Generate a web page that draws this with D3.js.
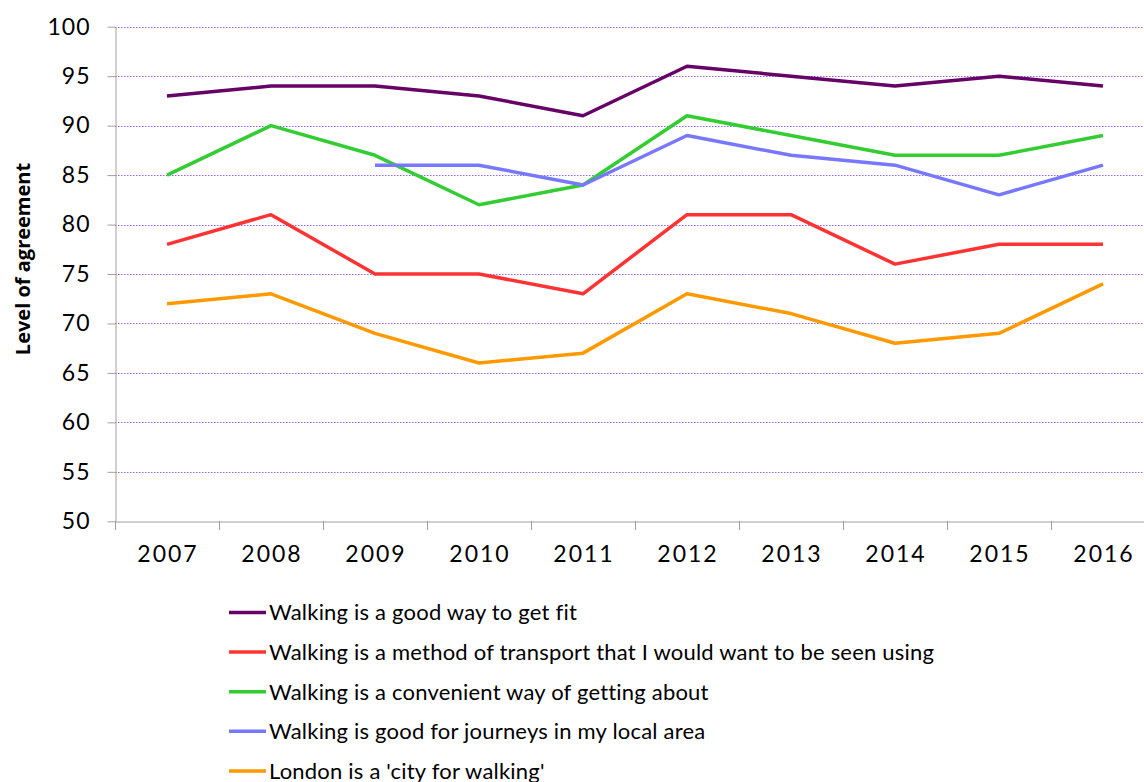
<!DOCTYPE html>
<html><head><meta charset="utf-8">
<script src="https://cdn.jsdelivr.net/npm/d3@7"></script>
<style>
body{margin:0;background:#fff;}
svg{display:block;}
text{font-variant-ligatures:none;}
</style></head>
<body><svg id="c" width="1144" height="782"></svg>
<script>
const years = ["2007","2008","2009","2010","2011","2012","2013","2014","2015","2016"];
const seriesNames = [
  "Walking is a good way to get fit",
  "Walking is a method of transport that I would want to be seen using",
  "Walking is a convenient way of getting about",
  "Walking is good for journeys in my local area",
  "London is a 'city for walking'"
];
const fitValues = [93,94,94,93,91,96,95,94,95,94];
const transportValues = [78,81,75,75,73,81,81,76,78,78];
const convenientValues = [85,90,87,82,84,91,89,87,87,89];
const localValues = [null,null,86,86,84,89,87,86,83,86];
const londonValues = [72,73,69,66,67,73,71,68,69,74];
const seriesColors = ["#660066","#ff3333","#33cc33","#7777ff","#ff9900"];
const yTicks = [50,55,60,65,70,75,80,85,90,95,100];
const yTitle = "Level of agreement";

(function(){
const allSeries = [fitValues, transportValues, convenientValues, localValues, londonValues];
const svg = d3.select("#c");
const pL = 115, pR = 1155, pT = 26.7, pB = 521.3;
const font = "Lato, 'Open Sans', sans-serif";

const x = d3.scaleBand().domain(years).range([pL, pR]).padding(0);
const y = d3.scaleLinear().domain([50,100]).range([pB, pT]);

// gridlines
svg.append("g").selectAll("line").data(yTicks.filter(t => t > 50)).join("line")
  .attr("x1", pL).attr("x2", pR)
  .attr("y1", d => Math.round(y(d)) + 0.5).attr("y2", d => Math.round(y(d)) + 0.5)
  .attr("stroke", "#8a66ff").attr("stroke-width", 1).attr("stroke-dasharray", "1.5,1.5");

// y axis
const yAxis = svg.append("g").attr("transform", `translate(${pL+0.5},0)`)
  .call(d3.axisLeft(y).tickValues(yTicks).tickSize(8).tickPadding(17).tickSizeOuter(0));
yAxis.select(".domain").attr("stroke", "#a0a0a0");
yAxis.selectAll(".tick line").attr("stroke", "#a0a0a0");
yAxis.selectAll("text").attr("font-family", font).attr("font-size", 23)
  .attr("letter-spacing", 1).attr("fill", "#000");

// x axis
const xAxis = svg.append("g").attr("transform", `translate(0,${Math.round(pB)+0.5})`)
  .call(d3.axisBottom(x).tickSize(0).tickPadding(24).tickSizeOuter(0));
xAxis.select(".domain").attr("stroke", "#a0a0a0");
xAxis.selectAll("text").attr("font-family", font).attr("font-size", 23)
  .attr("letter-spacing", 2).attr("dx", 1).attr("fill", "#000");
// category boundary ticks
const bounds = years.map(yr => x(yr));
svg.append("g").selectAll("line").data(bounds).join("line")
  .attr("x1", d => Math.round(d)+0.5).attr("x2", d => Math.round(d)+0.5)
  .attr("y1", Math.round(pB)).attr("y2", Math.round(pB)+9)
  .attr("stroke", "#a0a0a0");

// y title
svg.append("text").attr("transform", `translate(30,259) rotate(-90)`)
  .attr("text-anchor", "middle").attr("font-family", "'Open Sans', sans-serif")
  .attr("font-weight", "bold").attr("font-size", 20).text(yTitle);

// lines
const line = d3.line()
  .defined(d => d != null)
  .x((d, i) => x(years[i]) + x.bandwidth()/2)
  .y(d => y(d));
allSeries.forEach((vals, i) => {
  svg.append("path").datum(vals).attr("d", line)
    .attr("fill", "none").attr("stroke", seriesColors[i]).attr("stroke-width", 3.5)
    .attr("stroke-linejoin", "round");
});

// legend
const lg = svg.append("g");
seriesNames.forEach((name, i) => {
  const yy = 612.5 + i * 39.6;
  lg.append("line").attr("x1", 229).attr("x2", 266).attr("y1", yy).attr("y2", yy)
    .attr("stroke", seriesColors[i]).attr("stroke-width", 3.5);
  lg.append("text").attr("x", 269).attr("y", yy).attr("dy", "0.36em")
    .attr("font-family", font).attr("font-size", 22).attr("letter-spacing", 0.2)
    .attr("fill", "#000").text(name);
});
})();
</script></body></html>
